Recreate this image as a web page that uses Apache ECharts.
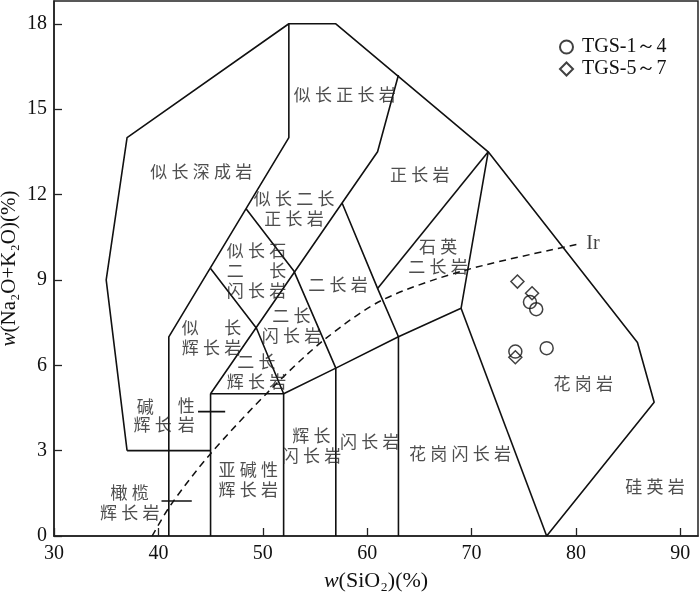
<!DOCTYPE html>
<html>
<head>
<meta charset="utf-8">
<script src="https://cdn.jsdelivr.net/npm/echarts@6/dist/echarts.min.js"></script>
<style>
html,body{margin:0;padding:0;background:#fff;}
#chart{width:700px;height:595px;}
</style>
</head>
<body>
<div id="chart"></div>
<script>
// ---- data ----
const circleName = 'TGS-1～4';
const diamondName = 'TGS-5～7';
const circlePts = [[75.6, 8.22], [76.2, 7.97], [74.2, 6.48], [77.2, 6.6]];
const diamondPts = [[74.4, 8.94], [75.8, 8.53], [74.2, 6.28]];

const xTicks = [30, 40, 50, 60, 70, 80, 90];
const yTicks = [0, 3, 6, 9, 12, 15, 18];

// field boundaries (SiO2, Na2O+K2O)
const outerLine = [[37, 3], [35, 9], [37, 14], [52.5, 18], [57, 18], [71.6, 13.5], [85.9, 6.8], [87.5, 4.7], [77.2, 0]];
const lineA = [[37, 3], [45, 3]];
const lineB = [[41, 0], [41, 7], [52.5, 14], [52.5, 18]];
const lineC = [[45, 0], [45, 5], [52, 5], [52, 0]];
const lineD = [[45, 5], [57.6, 11.7], [61, 13.5], [63, 16.2]];
const lineE = [[48.4, 11.5], [53, 9.3], [57, 5.9], [57, 0]];
const lineF = [[45, 9.4], [49.4, 7.3], [52, 5]];
const lineG = [[52, 5], [57, 5.9], [63, 7], [69, 8], [71.6, 13.5]];
const lineH = [[57.6, 11.7], [61, 8.7], [63, 7], [63, 0]];
const lineI = [[61, 8.7], [71.6, 13.5]];
const lineJ = [[69, 8], [77.2, 0]];
const leader1 = [[43.8, 4.37], [46.4, 4.37]];
const leader2 = [[40.3, 1.23], [43.2, 1.23]];

// Irvine dividing curve
const irCurve = [[39.4, 0], [41.2, 1.1], [44.9, 2.85], [50.7, 5.13], [55.9, 6.9], [61.5, 8.3], [69.5, 9.35], [80.4, 10.27]];

// field names
const fieldNames = ['似长深成岩', '似长正长岩', '正长岩', '似长二长\n正长岩', '似长石\n二　长\n闪长岩',
  '似　长\n辉长岩', '二长\n闪长岩', '二长\n辉长岩', '二长岩', '石英\n二长岩', '碱', '辉长', '性', '岩',
  '橄榄\n辉长岩', '亚碱性\n辉长岩', '辉长\n闪长岩', '闪长岩', '花岗闪长岩', '花岗岩', '硅英岩'];
const fieldX = [44.1, 57.85, 65.05, 53.0, 49.4, 45.1, 52.75, 49.4, 57.2, 66.8, 38.75, 39.45, 42.68, 42.68,
  37.25, 48.6, 54.67, 60.26, 68.9, 80.7, 87.58];
const fieldY = [12.8, 15.5, 12.69, 11.51, 9.33, 6.98, 7.39, 5.78, 8.83, 9.82, 4.55, 3.9, 4.6, 3.9,
  1.18, 2.0, 3.19, 3.32, 2.91, 5.37, 1.73];

// ---- chart ----
const spaced = s => s.split('\n').map(l => l.split('').join('\u2005')).join('\n');
const chart = echarts.init(document.getElementById('chart'));
const serif = 'Liberation Serif';
const cjk = 'Noto Sans CJK SC';

const boundaryLines = [outerLine, lineA, lineB, lineC, lineD, lineE, lineF, lineG, lineH, lineI, lineJ, leader1, leader2];
const series = boundaryLines.map(l => ({
  type: 'line', data: l, symbol: 'none', silent: true, animation: false, z: 2,
  lineStyle: { color: '#111', width: 1.6 }
}));
series.push({
  type: 'line', data: irCurve, symbol: 'none', silent: true, animation: false, smooth: 0.3, z: 2,
  lineStyle: { color: '#111', width: 1.5, type: [7, 5] }
});
series.push({
  type: 'scatter', silent: true, animation: false, z: 3,
  symbolSize: 1, itemStyle: { color: 'rgba(0,0,0,0)' },
  data: fieldNames.map((n, i) => ({ value: [fieldX[i], fieldY[i]], name: n })),
  label: {
    show: true, position: 'inside', formatter: p => spaced(p.name),
    fontFamily: cjk, fontSize: 17, lineHeight: 20, color: '#222', align: 'center', verticalAlign: 'middle'
  }
});
series.push({
  type: 'scatter', silent: true, animation: false, z: 3,
  symbolSize: 1, itemStyle: { color: 'rgba(0,0,0,0)' },
  data: [{ value: [81.0, 10.27], name: 'Ir' }],
  label: { show: true, position: 'inside', formatter: 'Ir', fontFamily: serif, fontSize: 20, color: '#111', align: 'left', verticalAlign: 'middle' }
});
series.push({
  name: circleName, type: 'scatter', data: circlePts, symbol: 'circle', symbolSize: 13, z: 5,
  itemStyle: { color: 'rgba(255,255,255,0)', borderColor: '#111', borderWidth: 1.5 }
});
series.push({
  name: diamondName, type: 'scatter', data: diamondPts, symbol: 'diamond', symbolSize: 13, z: 5,
  itemStyle: { color: 'rgba(255,255,255,0)', borderColor: '#111', borderWidth: 1.5 }
});

const richX = { i: { fontFamily: serif, fontStyle: 'italic', fontSize: 22, color: '#111' } };
const richY = { i: { fontFamily: serif, fontStyle: 'italic', fontSize: 21, color: '#111' } };
chart.setOption({
  animation: false,
  backgroundColor: '#fff',
  grid: { left: 54, right: 2, top: 1, bottom: 59, show: true, borderColor: '#222', borderWidth: 1.5,
    containLabel: false, outerBoundsMode: 'none' },
  legend: {
    data: [circleName, diamondName], orient: 'vertical', left: 554, top: 32,
    itemWidth: 13, itemHeight: 13, itemGap: 2, selectedMode: false,
    textStyle: { fontFamily: serif, fontSize: 20, color: '#111', padding: [0, 0, 0, 4] }
  },
  xAxis: {
    type: 'value', min: 30, max: 91.7, interval: 10,
    name: '{i|w}(SiO₂)(%)', nameLocation: 'middle', nameGap: 34, nameMoveOverlap: false,
    nameTextStyle: { fontFamily: serif, fontSize: 22, color: '#111', rich: richX },
    axisLine: { lineStyle: { color: '#222', width: 1.5 } },
    axisTick: { inside: true, length: 8, lineStyle: { color: '#222', width: 1.3 } },
    axisLabel: { fontFamily: serif, fontSize: 20, color: '#111', margin: 8, showMaxLabel: false,
      formatter: v => xTicks.includes(v) ? String(v) : '' },
    splitLine: { show: false }
  },
  yAxis: {
    type: 'value', min: 0, max: 18.8, interval: 3,
    name: '{i|w}(Na₂O+K₂O)(%)', nameLocation: 'middle', nameGap: 34, nameRotate: 90, nameMoveOverlap: false,
    nameTextStyle: { fontFamily: serif, fontSize: 21, color: '#111', rich: richY },
    axisLine: { lineStyle: { color: '#222', width: 1.5 } },
    axisTick: { inside: true, length: 8, lineStyle: { color: '#222', width: 1.3 } },
    axisLabel: { fontFamily: serif, fontSize: 20, color: '#111', margin: 7, showMaxLabel: false,
      formatter: v => yTicks.includes(v) ? String(v) : '' },
    splitLine: { show: false }
  },
  series: series
});
</script>
</body>
</html>
